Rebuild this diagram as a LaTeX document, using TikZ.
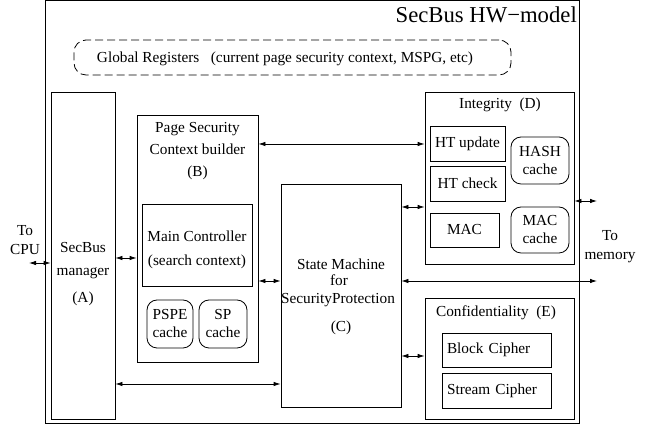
\documentclass[tikz,border=0pt]{standalone}
\usepackage{fontspec}
\setmainfont{Liberation Serif}
\usetikzlibrary{arrows.meta, positioning}
\tikzset{
  sz/.style 2 args={minimum width=#1pt, minimum height=#2pt},
  blk/.style={rectangle, draw=black, line width=.8pt, inner sep=0pt},
  sub/.style={rectangle, draw=black, line width=.8pt, inner sep=0pt,
    align=center, font=\fontsize{15.3}{17}\selectfont},
  subl/.style={sub, align=left, inner xsep=5pt, text width=99pt},
  cache/.style={rectangle, rounded corners=10pt, draw=black, line width=.8pt,
    inner sep=0pt, align=center, font=\fontsize{15.3}{18}\selectfont},
  glob/.style={rectangle, rounded corners=12pt, draw=black, line width=.8pt,
    dash pattern=on 8pt off 4pt},
  txt/.style={anchor=base, inner sep=0pt, font=\fontsize{15.3}{17}\selectfont},
  side/.style={inner sep=0pt, align=center, font=\fontsize{15.3}{19}\selectfont},
  arr/.style={{Latex[length=7pt,width=4.5pt]}-{Latex[length=7pt,width=4.5pt]},
    draw=black, line width=.8pt},
}
\begin{document}
\begin{tikzpicture}[x=1pt, y=1pt]
  \useasboundingbox (0,0) rectangle (657,425);
  \node[blk, sz={534}{422.5}] (hw) at (312,213.25) {};
  \node[txt, anchor=base east, font=\fontsize{22.7}{26}\selectfont] (title) at (577,402) {SecBus HW−model};

  \node[glob, sz={437}{35}] (glob) at (292.5,367.5) {};
  \node[txt] (globt) at (285,362.5) {Global Registers\ \ \ (current page security context, MSPG, etc)};

  \node[blk, sz={64}{327}] (mgr) at (83,169.5) {};
  \node[txt] (mgr1) at (83,172) {SecBus};
  \node[txt] (mgr2) at (83,149) {manager};
  \node[txt] (mgr3) at (83,122) {(A)};

  \node[blk, sz={121}{247}] (psc) at (197.5,186.5) {};
  \node[txt] (psc1) at (197.5,292) {Page Security};
  \node[txt] (psc2) at (197.5,270) {Context builder};
  \node[txt] (psc3) at (197.5,248) {(B)};
  \node[blk, sz={110}{82}] (mc) at (197,180) {};
  \node[txt] (mc1) at (197,183) {Main Controller};
  \node[txt] (mc2) at (197,159) {(search context)};
  \node[cache, sz={46}{48}] (pspe) at (170,101) {PSPE\\cache};
  \node[cache, sz={48}{48}] (spc) at (223,101) {SP\\cache};

  \node[blk, sz={120}{223}] (fsm) at (341,129.5) {};
  \node[txt] (fsm1) at (341,155) {State Machine};
  \node[txt] (fsm2) at (339,139) {for};
  \node[txt] (fsm3) at (338,121) {SecurityProtection};
  \node[txt] (fsm4) at (341,93) {(C)};

  \node[blk, sz={149}{172}] (integ) at (499.5,247) {};
  \node[txt] (integt) at (500,316) {Integrity\ \ (D)};
  \node[sub, sz={75}{35}] (htu) at (467.5,281.5) {HT update};
  \node[sub, sz={75}{35}] (htc) at (467.5,241.5) {HT check};
  \node[sub, sz={69}{34}] (mac) at (464.5,195) {MAC};
  \node[cache, sz={58}{47}] (hashc) at (540,264.5) {HASH\\cache};
  \node[cache, sz={58}{46}] (macc) at (540,195) {MAC\\cache};

  \node[blk, sz={149}{121}] (conf) at (499.5,66.5) {};
  \node[txt] (conft) at (496,108) {Confidentiality\ \ (E)};
  \node[subl, sz={109}{34}] (bc) at (496.5,75) {Block Cipher};
  \node[subl, sz={109}{35}] (sc) at (496.5,34.5) {Stream Cipher};

  \node[side] (cpu) at (25,184.5) {To\\CPU};
  \node[side] (mem) at (610,178) {To\\memory};
  \coordinate (cpuend) at (29,162);
  \coordinate (memend) at (597,144);
  \coordinate (memend2) at (597,224);

  \draw[arr] (cpuend) -- (mgr.west |- cpuend);
  \draw[arr] (mgr.east |- 0,167) -- (psc.west |- 0,167);
  \draw[arr] (psc.east |- 0,281) -- (integ.west |- 0,281);
  \draw[arr] (psc.east |- 0,144) -- (fsm.west |- 0,144);
  \draw[arr] (mgr.east |- 0,41) -- (fsm.west |- 0,41);
  \draw[arr] (fsm.east |- 0,218) -- (integ.west |- 0,218);
  \draw[arr] (fsm.east |- 0,69) -- (conf.west |- 0,69);
  \draw[arr] (fsm.east |- memend) -- (memend);
  \draw[arr] (integ.east |- memend2) -- (memend2);
\end{tikzpicture}
\end{document}
